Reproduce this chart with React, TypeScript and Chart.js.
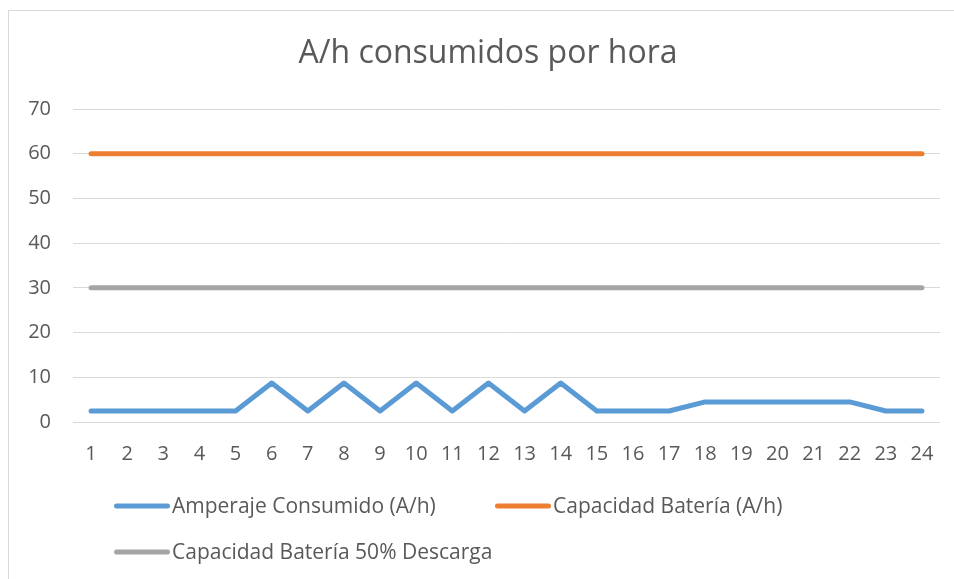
import React, { useEffect, useRef } from 'react';
import { Chart, registerables } from 'chart.js';

Chart.register(...registerables);

const TITLE = 'A/h consumidos por hora';
const hours = ['1', '2', '3', '4', '5', '6', '7', '8', '9', '10', '11', '12', '13', '14', '15', '16', '17', '18', '19', '20', '21', '22', '23', '24'];
const seriesNames = ['Amperaje Consumido (A/h)', 'Capacidad Batería (A/h)', 'Capacidad Batería 50% Descarga'];
const amperaje = [2.45, 2.45, 2.45, 2.45, 2.45, 8.7, 2.45, 8.7, 2.45, 8.7, 2.45, 8.7, 2.45, 8.7, 2.45, 2.45, 2.45, 4.5, 4.5, 4.5, 4.5, 4.5, 2.45, 2.45];
const capacidad = [60, 60, 60, 60, 60, 60, 60, 60, 60, 60, 60, 60, 60, 60, 60, 60, 60, 60, 60, 60, 60, 60, 60, 60];
const capacidad50 = [30, 30, 30, 30, 30, 30, 30, 30, 30, 30, 30, 30, 30, 30, 30, 30, 30, 30, 30, 30, 30, 30, 30, 30];
const yMin = 0;
const yMax = 70;
const yStep = 10;

const COLORS = ['#5b9bd5', '#ed7d31', '#a5a5a5'];
const FONT = "'Open Sans', sans-serif";
const TEXT = '#595959';

// legend layout (positions of the legend entries)
const legendPos = [
  { x: 116.5, y: 506, tx: 172, ty: 513 },
  { x: 497.5, y: 506, tx: 553, ty: 513 },
  { x: 116.5, y: 552, tx: 172, ty: 559 },
];

const decorPlugin = {
  id: 'decor',
  beforeDraw(chart: any) {
    const ctx = chart.ctx;
    ctx.save();
    ctx.fillStyle = '#ffffff';
    ctx.fillRect(0, 0, chart.width, chart.height);
    ctx.strokeStyle = '#d9d9d9';
    ctx.lineWidth = 1;
    ctx.strokeRect(8.5, 10.5, chart.width + 10, chart.height + 10);
    ctx.restore();
  },
  afterDraw(chart: any) {
    const ctx = chart.ctx;
    ctx.save();
    ctx.fillStyle = TEXT;
    ctx.font = `32px ${FONT}`;
    ctx.textAlign = 'center';
    ctx.textBaseline = 'alphabetic';
    ctx.fillText(TITLE, 488, 63);

    ctx.font = `21px ${FONT}`;
    ctx.textAlign = 'left';
    chart.data.datasets.forEach((ds: any, i: number) => {
      const p = legendPos[i];
      ctx.strokeStyle = ds.borderColor;
      ctx.lineWidth = 5;
      ctx.lineCap = 'round';
      ctx.beginPath();
      ctx.moveTo(p.x, p.y);
      ctx.lineTo(p.x + 51, p.y);
      ctx.stroke();
      ctx.fillStyle = TEXT;
      ctx.fillText(ds.label, p.tx, p.ty);
    });
    ctx.restore();
  },
};

export default function App() {
  const ref = useRef<HTMLCanvasElement>(null);
  useEffect(() => {
    if (!ref.current) return;
    const values = [amperaje, capacidad, capacidad50];
    const chart = new Chart(ref.current, {
      type: 'line',
      data: {
        labels: hours,
        datasets: values.map((v, i) => ({
          label: seriesNames[i],
          data: v,
          borderColor: COLORS[i],
          backgroundColor: COLORS[i],
          borderWidth: 5,
          pointRadius: 0,
          tension: 0,
          borderCapStyle: 'round',
          borderJoinStyle: 'round',
          fill: false,
        })),
      },
      options: {
        responsive: false,
        animation: false,
        devicePixelRatio: 1,
        layout: { padding: { top: 109, left: 8, right: 14, bottom: 97 } },
        plugins: {
          legend: { display: false },
          title: { display: false },
          tooltip: { enabled: false },
        },
        scales: {
          x: {
            offset: true,
            grid: { display: false, drawTicks: false },
            border: { display: false },
            ticks: { color: TEXT, font: { family: FONT, size: 20 }, padding: 20, maxRotation: 0, autoSkip: false },
            afterFit: (s: any) => { s.height = 60; },
          },
          y: {
            min: yMin,
            max: yMax,
            grid: { color: '#d9d9d9', lineWidth: 1, drawTicks: false },
            border: { display: false },
            ticks: { stepSize: yStep, color: TEXT, font: { family: FONT, size: 20 }, padding: 22 },
            afterFit: (s: any) => { s.width = 65; },
          },
        },
      },
      plugins: [decorPlugin],
    });
    return () => chart.destroy();
  }, []);
  return (
    <div style={{ position: 'fixed', left: 0, top: 0, width: 954, height: 579, background: '#fff' }}>
      <canvas ref={ref} width={954} height={579} style={{ display: 'block', width: 954, height: 579 }} />
    </div>
  );
}
